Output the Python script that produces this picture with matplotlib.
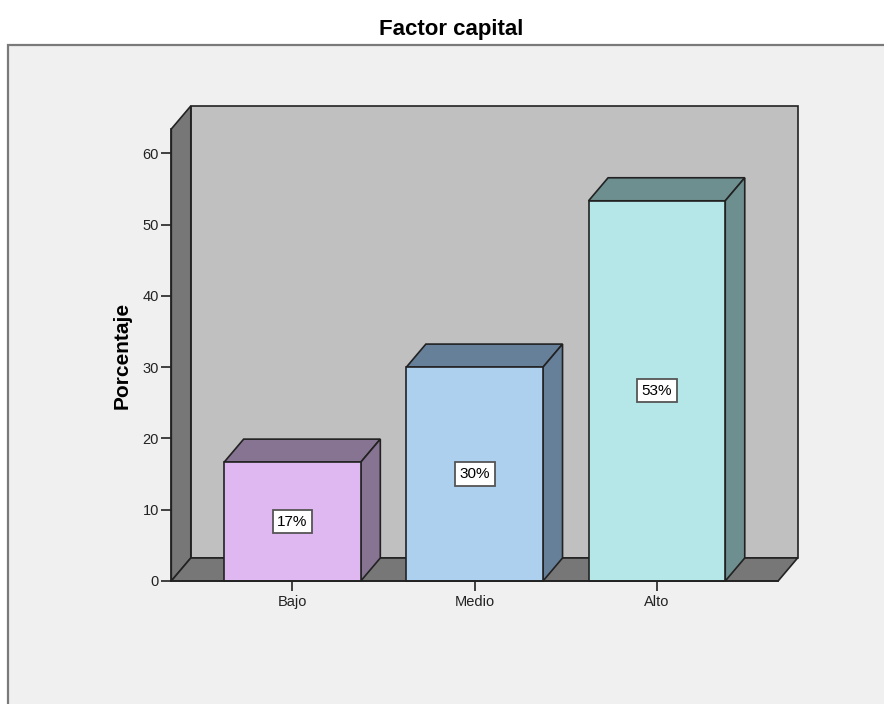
import matplotlib
matplotlib.use("Agg")
import matplotlib.pyplot as plt
from matplotlib.patches import Polygon, Rectangle

plt.rcParams['font.family'] = ['Liberation Sans', 'DejaVu Sans']

# Data
categories = ["Bajo", "Medio", "Alto"]
values = [16.67, 30.0, 53.33]
front_colors = ["#dfb8f1", "#acd0ee", "#b5e6e8"]
shade_colors = ["#877392", "#66809a", "#6e8f8f"]
y_ticks = [0, 10, 20, 30, 40, 50, 60]

W, H = 884, 704
fig = plt.figure(figsize=(W / 100, H / 100), dpi=100)
fig.patch.set_facecolor("white")

# Chart frame
frame = Rectangle((8 / W, -0.05), 1.1, (H - 45) / H + 0.05, transform=fig.transFigure,
                  facecolor="#f0f0f0", edgecolor="#7a7a7a", linewidth=1.6, zorder=-5)
fig.patches.append(frame)

fig.text(451 / W, 1 - 35 / H, "Factor capital", ha="center", va="baseline",
         fontsize=16, fontweight="bold")

xmin, xmax = -0.665, 2.665
ymin, ymax = 0, 63.4
ax = fig.add_axes([171.3 / W, (H - 581) / H, (778.1 - 171.3) / W, (581 - 129) / H])
ax.set_zorder(2)
ax.set_xlim(xmin, xmax)
ax.set_ylim(ymin, ymax)
ax.patch.set_visible(False)

# depth offset in data units
dx, dy = 0.107, 3.23
edge = dict(edgecolor="#222222", linewidth=1.2, clip_on=False)

# back wall, left wall, floor
ax.add_patch(Polygon([(xmin + dx, dy), (xmax + dx, dy), (xmax + dx, ymax + dy), (xmin + dx, ymax + dy)],
                     facecolor="#c0c0c0", zorder=1, **edge))
ax.add_patch(Polygon([(xmin, 0), (xmin, ymax), (xmin + dx, ymax + dy), (xmin + dx, dy)],
                     facecolor="#777777", zorder=1, **edge))
ax.add_patch(Polygon([(xmin, 0), (xmax, 0), (xmax + dx, dy), (xmin + dx, dy)],
                     facecolor="#777777", zorder=1, **edge))

bw = 0.75
for i, (v, fc, sc) in enumerate(zip(values, front_colors, shade_colors)):
    x0, x1 = i - bw / 2, i + bw / 2
    ax.add_patch(Polygon([(x0, v), (x1, v), (x1 + dx, v + dy), (x0 + dx, v + dy)],
                         facecolor=sc, zorder=3, **edge))
    ax.add_patch(Polygon([(x1, 0), (x1 + dx, dy), (x1 + dx, v + dy), (x1, v)],
                         facecolor=sc, zorder=3, **edge))
    ax.add_patch(Rectangle((x0, 0), bw, v, facecolor=fc, zorder=4, **edge))
    ax.text(i, v / 2, f"{v:.0f}%", ha="center", va="center", fontsize=11, zorder=6,
            bbox=dict(boxstyle="square,pad=0.3", facecolor="white", edgecolor="#555555", linewidth=1.3))

for s in ["top", "right"]:
    ax.spines[s].set_visible(False)
for s in ["left", "bottom"]:
    ax.spines[s].set_color("#222222")
    ax.spines[s].set_linewidth(1.2)
    ax.spines[s].set_zorder(5)

ax.set_yticks(y_ticks)
ax.set_xticks(range(len(categories)))
ax.set_xticklabels(categories)
ax.tick_params(axis="y", length=7, width=1.2, pad=2, labelsize=10.5, color="#222222", labelcolor="#222222")
ax.tick_params(axis="x", length=7, width=1.2, pad=3, labelsize=10.5, color="#222222", labelcolor="#222222")
ax.set_ylabel("Porcentaje", fontsize=15, fontweight="bold", labelpad=8)

fig.savefig("out.png", dpi=100)
